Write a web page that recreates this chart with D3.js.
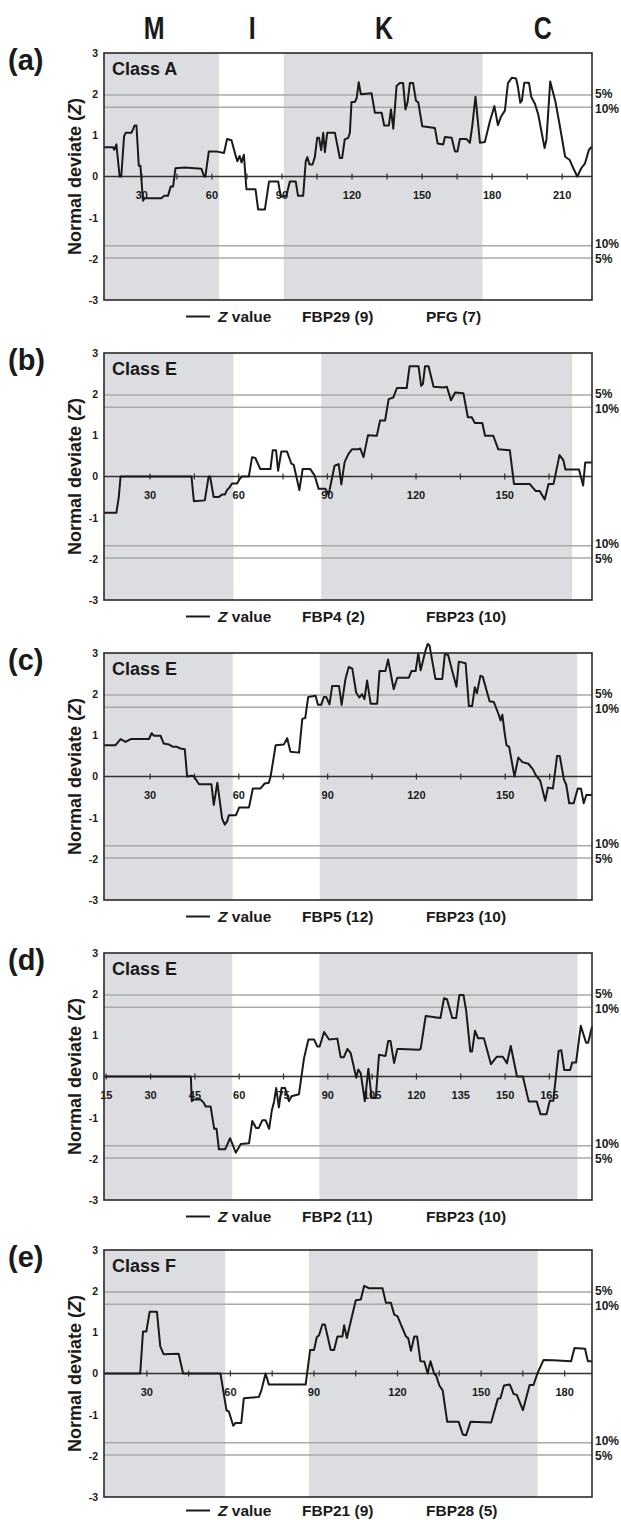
<!DOCTYPE html>
<html>
<head>
<meta charset="utf-8">
<script src="https://cdn.jsdelivr.net/npm/d3@7"></script>
<style>
  body { margin: 0; background: #fff; }
  text { font-family: "Liberation Sans", Arial, sans-serif; font-weight: bold; fill: #1a1a1a; }
</style>
</head>
<body>
<script>
// domain names across the top, centred at residue positions of panel (a)
var domainNames = ["M", "I", "K", "C"];
var domainCenters = [35, 77, 133.5, 201.5];

var panelLabels = ["(a)", "(b)", "(c)", "(d)", "(e)"];
var classNames = ["Class A", "Class E", "Class E", "Class E", "Class F"];
var legendNames = [
	["FBP29 (9)", "PFG (7)"],
	["FBP4 (2)", "FBP23 (10)"],
	["FBP5 (12)", "FBP23 (10)"],
	["FBP2 (11)", "FBP23 (10)"],
	["FBP21 (9)", "FBP28 (5)"]
];
var xDomains = [[14, 223], [14.6, 179.7], [14.6, 179.5], [14.4, 179.6], [14.8, 190]];
var tickStart = [30, 30, 30, 15, 30];
var labelStep = [30, 30, 30, 15, 30];
// grey bands (residue ranges)
var shadeRanges = [
	[[14, 63.3], [91, 176.1]],
	[[14.6, 58.4], [88.1, 173]],
	[[14.6, 58.1], [87.5, 174.5]],
	[[14.4, 57.8], [87.3, 174.7]],
	[[14.8, 58.3], [88.4, 170.5]]
];
var yTicks = [-3, -2, -1, 0, 1, 2, 3];
var thresholds = [1.98, 1.68];
var thresholdLabels = ["5%", "10%"];

// Z value series, [residue, Z]
var zA = [[14,0.71],[17.9,0.71],[18.4,0.65],[19.3,0.78],[20.7,0],[21.4,0],[22.6,0.98],[23.3,1.06],[25.7,1.06],[26.4,1.14],[27.1,1.24],[27.9,1.24],[28.9,0.26],[29.6,0.26],[30.7,-0.59],[31.4,-0.53],[38.6,-0.53],[39.7,-0.47],[41.4,-0.47],[42.6,-0.24],[43.6,-0.24],[44.6,0.2],[48.6,0.22],[55.7,0.19],[56.9,0],[57.4,0],[58.9,0.61],[62,0.61],[65.4,0.57],[66.7,0.91],[68.6,0.88],[70.4,0.5],[71.1,0.37],[72.1,0.5],[72.9,0.34],[73.9,0.53],[75,-0.31],[78.9,-0.31],[80,-0.8],[82.9,-0.8],[84.7,-0.12],[88.6,-0.12],[89.7,-0.49],[92.1,-0.47],[93.6,-0.12],[96.1,-0.12],[97.1,-0.47],[99.3,-0.47],[100.4,0.37],[101.1,0.47],[102,0.29],[103.3,0.29],[104.3,0.47],[105.3,0.94],[106.1,0.94],[107,0.64],[107.9,1.06],[108.6,0.59],[109.6,1.06],[112.9,1.06],[115,0.45],[116,0.45],[117.1,0.9],[118.6,0.94],[119.3,1.06],[120,1.81],[121.4,1.81],[122.2,1.9],[123.1,2.29],[124,2.0],[128.6,2.02],[130,1.55],[132.9,1.55],[134,1.24],[136,1.24],[136.9,1.63],[137.9,1.16],[139.3,2.2],[140.7,2.27],[142.1,2.27],[143.1,1.63],[144,1.8],[145,2.27],[146.4,2.27],[147.6,1.84],[148.6,1.8],[150.3,1.22],[155.7,1.18],[156.9,0.8],[159.3,0.78],[160,0.96],[162.9,0.94],[164.3,0.61],[165.4,0.61],[166.4,0.91],[169.3,0.91],[170.7,0.82],[171.7,1.22],[173.1,1.94],[175,0.82],[177.1,0.84],[179.3,1.35],[181.2,1.71],[182.7,1.25],[184,1.45],[185.7,1.6],[187,2.27],[188.7,2.4],[190.5,2.38],[191.2,2.2],[192.3,1.79],[193,1.85],[194,2.28],[196,2.28],[197,1.93],[198.6,1.76],[200,1.5],[202.7,0.69],[203.5,0.9],[205.1,2.31],[207.3,1.83],[209,1.3],[211.5,0.48],[213.5,0.4],[215,0.2],[216.7,0],[218.4,0.2],[220,0.32],[221.7,0.65],[223,0.73]];

var zB = [[14.6,-0.88],[18.8,-0.88],[19.6,-0.5],[20.2,0],[44.2,0],[45,-0.6],[48.7,-0.58],[50,0],[50.5,0],[51.7,-0.5],[53.4,-0.5],[54.5,-0.44],[55.5,-0.44],[56.2,-0.33],[57,-0.27],[57.9,-0.17],[59.6,-0.17],[60.4,-0.07],[61.3,0],[63.6,0],[64.7,0.47],[65.8,0.45],[67.5,0.18],[70.9,0.18],[71.7,0.64],[72.8,0.64],[73.5,0.14],[74.6,0.61],[76.5,0.61],[78,0.31],[78.8,0.28],[80.7,-0.33],[81.8,0.18],[84.4,0.18],[85.9,0.02],[87.2,-0.3],[89.5,-0.3],[90.6,-0.44],[92.6,0.26],[94,0.3],[94.9,-0.19],[96,0.35],[97.3,0.55],[98.5,0.66],[100.7,0.66],[101.3,0.68],[102.4,0.47],[103.9,1.0],[106.9,0.99],[108,1.36],[109.7,1.36],[110.9,1.88],[112.5,1.92],[113.7,2.15],[117,2.15],[118,2.68],[121,2.68],[121.9,2.2],[122.5,2.25],[123.2,2.68],[124.4,2.68],[126.1,2.18],[129.5,2.16],[130.6,2.18],[132,1.85],[133.4,2.04],[136.2,2.02],[137.7,1.44],[139,1.44],[140.1,1.3],[142.6,1.3],[143.5,0.99],[146.3,0.99],[148,0.66],[151.9,0.64],[153.3,-0.18],[158.6,-0.18],[160.6,-0.35],[162,-0.35],[163.7,-0.56],[165,-0.18],[166.7,-0.18],[168.7,0.52],[170,0.4],[170.7,0.17],[175.3,0.17],[176.7,-0.22],[177.4,0.34],[179.7,0.34]];

var zC = [[14.6,0.76],[18.5,0.76],[20.2,0.91],[21.9,0.84],[23.6,0.91],[29.8,0.91],[30.7,1.05],[31.5,0.99],[33.7,0.99],[34.8,0.8],[36.5,0.78],[37.9,0.72],[39.3,0.72],[40.4,0.68],[41.9,0.66],[42.7,0],[44.2,0.02],[45,0],[46.7,-0.19],[50.9,-0.19],[51.7,-0.69],[52.9,-0.15],[54.5,-1.02],[55.4,-1.17],[56.2,-1.09],[56.8,-0.94],[59.2,-0.94],[60.3,-0.75],[63.6,-0.75],[64.9,-0.29],[67.5,-0.29],[68.9,-0.17],[70.3,-0.15],[70.9,0],[72.6,0.76],[75.4,0.78],[76.5,0.93],[77.6,0.6],[80.5,0.58],[81.6,1.4],[82.6,1.42],[83.6,1.93],[86.1,1.96],[86.9,1.74],[88,1.74],[88.9,1.93],[89.7,1.93],[90.8,1.75],[91.7,2.2],[94,2.2],[94.9,1.74],[96.2,2.37],[97.3,2.66],[98.5,2.62],[99.8,2.04],[100.9,1.92],[101.8,2.0],[102.6,1.88],[103.5,2.33],[104.7,1.77],[106.9,1.77],[107.7,2.56],[109.7,2.56],[110.6,2.84],[112.5,2.12],[113.7,2.4],[117.6,2.4],[118.5,2.56],[119.9,2.56],[120.8,2.99],[121.6,2.58],[123.2,3.05],[124,3.22],[124.6,3.18],[126.6,2.37],[128.9,2.37],[129.8,2.98],[130.9,2.95],[132.2,2.58],[133.7,2.18],[134.5,2.79],[136.8,2.75],[137.9,1.71],[139,1.71],[139.9,2.17],[140.6,2.02],[141.8,2.45],[142.6,2.42],[144.9,1.83],[146.3,1.81],[148,1.5],[148.6,1.36],[149.2,1.5],[150,1.05],[150.6,0.76],[151.5,0.72],[153.3,0],[154.6,0.46],[156,0.35],[158,0.31],[159.5,0.18],[160.6,0.02],[162,-0.1],[163.7,-0.59],[164.6,-0.27],[166.3,-0.29],[167.7,0.5],[168.6,0.5],[170,-0.07],[170.8,-0.2],[171.8,-0.65],[173.3,-0.65],[174.7,-0.29],[175.8,-0.3],[176.7,-0.65],[177.6,-0.45],[179.5,-0.45]];

var zD = [[14.4,0],[43.8,0],[44.1,-0.6],[44.9,-0.56],[47.1,-0.56],[48.2,-0.64],[48.8,-0.73],[50.5,-0.73],[51.7,-1.27],[52.5,-1.27],[53.3,-1.77],[55.4,-1.77],[57.1,-1.5],[59,-1.85],[60.7,-1.64],[63.5,-1.62],[64.6,-1.08],[65.9,-1.25],[66.8,-1.25],[68,-1.06],[69.1,-1.06],[70.3,-1.27],[71.2,-0.83],[72,-0.6],[72.7,-0.28],[73.6,-0.75],[74.5,-0.28],[75.7,-0.28],[77,-0.6],[77.9,-0.48],[80.4,-0.43],[82.1,0.44],[83.6,0.9],[85.5,0.9],[86.6,0.73],[87.4,0.73],[88.9,1.08],[90.6,0.9],[93.4,0.92],[94.5,0.47],[95.6,0.47],[96.8,0.67],[97.9,0.57],[99.8,-0.03],[100.5,0.17],[101.3,0.08],[102.7,-0.6],[103.9,0.19],[105,-0.52],[106.4,-0.52],[107.5,0.53],[109.7,0.5],[110.6,0.86],[111.4,0.86],[112.6,0.33],[113.7,0.67],[114.8,0.67],[121,0.65],[121.6,0.67],[123.3,1.47],[128.3,1.42],[129.5,1.9],[130.5,1.88],[132.3,1.42],[133.6,1.42],[134.7,1.98],[136.1,1.98],[137,1.6],[138.4,0.61],[139,0.61],[140,1.11],[141,0.93],[143,0.93],[145.4,0.3],[147.4,0.48],[149.4,0.48],[150.8,0.32],[152.1,0.74],[154.2,0],[156.2,0],[158.2,-0.61],[160.9,-0.61],[162.2,-0.92],[164.2,-0.92],[165.3,-0.59],[166.5,-0.59],[168.3,0.62],[169.2,0.64],[170.2,0.16],[172.2,0.16],[172.9,0.34],[174.2,0.34],[175.8,1.23],[177.6,0.82],[178.3,0.82],[179.6,1.21]];

var zE = [[14.8,0],[27.8,0],[28.8,1.02],[30,1.02],[31.2,1.5],[33.8,1.5],[35,0.66],[36.2,0.47],[41.6,0.48],[43.2,0],[56.6,0],[58.8,-0.9],[59.6,-0.92],[61.2,-1.27],[62,-1.2],[64.1,-1.2],[65,-0.6],[70.4,-0.57],[71.3,-0.41],[72.8,0],[74,-0.27],[87.2,-0.27],[88.8,0.57],[90.2,0.57],[91.2,0.88],[92,0.93],[93.2,1.19],[94.1,1.19],[96.2,0.57],[97.4,0.57],[98.6,0.9],[100.4,0.9],[101,1.17],[102,0.86],[103.4,1.27],[105.2,1.78],[107,1.8],[108.2,2.13],[110,2.07],[114.8,2.07],[116,1.72],[117.8,1.72],[119,1.43],[120.2,1.39],[121.4,1.19],[123.2,0.9],[124,0.86],[125,0.55],[126.2,0.9],[127.2,0.9],[128.4,0.3],[129.8,0.29],[131,0],[132,0.3],[133.4,-0.02],[134,-0.04],[135.2,-0.29],[136.4,-0.41],[138,-1.17],[142.1,-1.17],[143.6,-1.48],[144.8,-1.5],[146.4,-1.17],[153.8,-1.19],[156.2,-0.61],[157.1,-0.6],[158.4,-0.29],[160.5,-0.27],[161.9,-0.5],[163,-0.52],[165.2,-0.89],[167.6,-0.28],[169,-0.28],[170.4,0],[172.6,0.33],[176.1,0.32],[182.5,0.3],[183.7,0.62],[187.5,0.6],[188.5,0.3],[190,0.3]];

var series = [zA, zB, zC, zD, zE];

var W = 621, H = 1520;
var panelTops = [53, 353, 653, 953, 1250];
var left = 104, right = 592, ph = 247;

var svg = d3.select("body").append("svg")
	.attr("width", W)
	.attr("height", H);

var xFirst = d3.scaleLinear().domain(xDomains[0]).range([left + 1, right + 1]);

// condensed look: squeeze a bold face horizontally
svg.selectAll(".dom")
	.data(domainNames)
	.enter()
	.append("text")
	.attr("class", "dom")
	.attr("transform", (d, i) => "translate(" + xFirst(domainCenters[i]) + ",39) scale(0.78,1)")
	.attr("text-anchor", "middle")
	.style("font-size", "32px")
	.text(d => d);

series.forEach(function(data, i){
	var top = panelTops[i];
	var g = svg.append("g");
	var x = d3.scaleLinear().domain(xDomains[i]).range([left, right]);
	var y = d3.scaleLinear().domain([-3, 3]).range([top + ph, top]);

	g.selectAll("rect.shade")
		.data(shadeRanges[i])
		.enter()
		.append("rect")
		.attr("class", "shade")
		.attr("x", d => x(d[0]))
		.attr("width", d => x(d[1]) - x(d[0]))
		.attr("y", top)
		.attr("height", ph)
		.style("fill", "#dcdde0");

	// significance lines
	var th = [];
	thresholds.forEach(function(t, k){
		th.push({z: t, label: thresholdLabels[k], off: k === 0 ? -1 : 1.5});
		th.push({z: -t, label: thresholdLabels[k], off: k === 0 ? 1 : -1.5});
	});
	g.selectAll("line.th")
		.data(th)
		.enter()
		.append("line")
		.attr("x1", left).attr("x2", right)
		.attr("y1", d => y(d.z)).attr("y2", d => y(d.z))
		.style("stroke", "#a9a9a9")
		.style("stroke-width", 1.5);
	g.selectAll("text.th")
		.data(th)
		.enter()
		.append("text")
		.attr("x", right + 3)
		.attr("y", d => y(d.z) + d.off)
		.attr("dy", "0.36em")
		.style("font-size", "12px")
		.text(d => d.label);

	// zero line
	g.append("line")
		.attr("x1", left).attr("x2", right)
		.attr("y1", y(0)).attr("y2", y(0))
		.style("stroke", "#333")
		.style("stroke-width", 1.3);

	var ticks = d3.range(tickStart[i], xDomains[i][1], 15);
	var xAxis = d3.axisBottom(x)
		.tickValues(ticks)
		.tickSize(3)
		.tickPadding(12)
		.tickFormat(d => (d - tickStart[i]) % labelStep[i] === 0 ? d : "");
	var ax = g.append("g")
		.attr("transform", "translate(0," + y(0) + ")")
		.call(xAxis);
	ax.select(".domain").remove();
	ax.selectAll(".tick line").attr("y1", -3).style("stroke", "#333").style("stroke-width", 1.2);
	ax.selectAll(".tick text").style("font-size", "11px").style("font-family", "'Liberation Sans', Arial, sans-serif").style("font-weight", "bold").attr("fill", "#1a1a1a");

	var yAxis = d3.axisLeft(y)
		.tickValues(yTicks)
		.tickSize(0)
		.tickPadding(6)
		.tickFormat(d => String(d));
	var ay = g.append("g")
		.attr("transform", "translate(" + left + ",0)")
		.call(yAxis);
	ay.select(".domain").remove();
	ay.selectAll(".tick text").style("font-size", "10.5px").style("font-family", "'Liberation Sans', Arial, sans-serif").style("font-weight", "bold").attr("fill", "#1a1a1a");

	var line = d3.line()
		.x(d => x(d[0]))
		.y(d => y(d[1]));
	g.append("path")
		.datum(data)
		.attr("d", line)
		.style("fill", "none")
		.style("stroke", "#1a1a1a")
		.style("stroke-width", 2)
		.style("stroke-linejoin", "round");

	// frame
	g.append("rect")
		.attr("x", left).attr("y", top)
		.attr("width", right - left).attr("height", ph)
		.style("fill", "none")
		.style("stroke", "#2a2a2a")
		.style("stroke-width", 1.6);

	g.append("text")
		.attr("x", 8)
		.attr("y", top + 17)
		.style("font-size", "29px")
		.text(panelLabels[i]);

	g.append("text")
		.attr("x", left + 8)
		.attr("y", top + 22)
		.style("font-size", "18px")
		.text(classNames[i]);

	var yt = g.append("text")
		.attr("transform", "translate(81," + (top + ph / 2) + ") rotate(-90)")
		.attr("text-anchor", "middle")
		.style("font-size", "18px");
	yt.append("tspan").text("Normal deviate (");
	yt.append("tspan").style("font-style", "italic").text("Z");
	yt.append("tspan").text(")");

	// legend
	var ly = Math.min(top + ph + 22, H - 4);
	g.append("line")
		.attr("x1", 186).attr("x2", 210)
		.attr("y1", ly - 5.5).attr("y2", ly - 5.5)
		.style("stroke", "#1a1a1a")
		.style("stroke-width", 2);
	var lt = g.append("text")
		.attr("x", 218).attr("y", ly)
		.style("font-size", "15.5px");
	lt.append("tspan").style("font-style", "italic").text("Z");
	lt.append("tspan").text(" value");
	g.selectAll("text.lg")
		.data(legendNames[i])
		.enter()
		.append("text")
		.attr("class", "lg")
		.attr("x", (d, k) => k === 0 ? 302 : 426)
		.attr("y", ly)
		.style("font-size", "15.5px")
		.text(d => d);
});
</script>
</body>
</html>
